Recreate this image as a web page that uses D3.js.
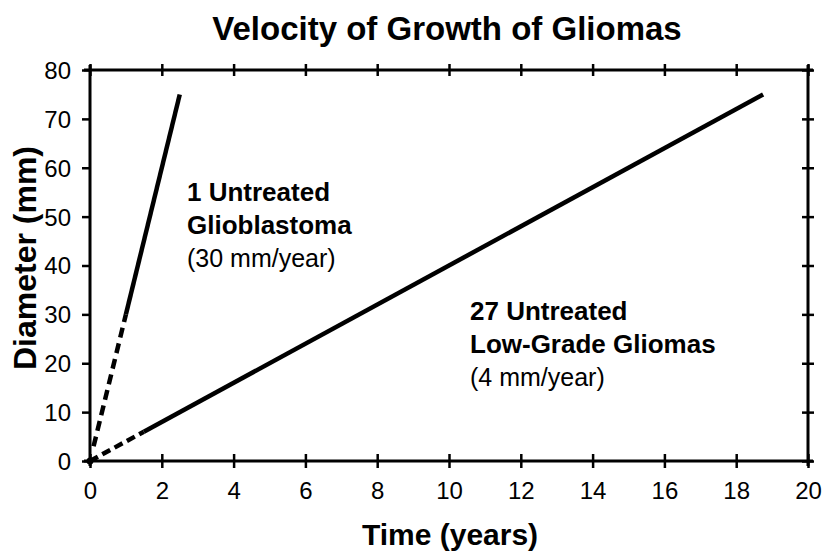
<!DOCTYPE html>
<html>
<head>
<meta charset="utf-8">
<script src="https://cdn.jsdelivr.net/npm/d3@7"></script>
<style>
  html, body { margin: 0; padding: 0; background: #fff; }
  svg { display: block; }
  svg text { font-family: "Liberation Sans", Arial, Helvetica, sans-serif; }
</style>
</head>
<body>
<svg id="chart" width="823" height="555"></svg>
<script>
// Axis ticks
const xTicks = [0, 2, 4, 6, 8, 10, 12, 14, 16, 18, 20];
const yTicks = [0, 10, 20, 30, 40, 50, 60, 70, 80];

// Glioblastoma: 30 mm/year (extrapolated part dashed, observed part solid)
const gbmExtrapolated = [[0.1, 3], [1, 30]];
const gbmObserved = [[1, 30], [2.5, 75]];

// Low-grade gliomas: 4 mm/year
const lggExtrapolated = [[0, 0], [1.5, 6]];
const lggObserved = [[1.5, 6], [18.75, 75]];

const origin = [[0, 0]];

const svg = d3.select("#chart");
const x = d3.scaleLinear().domain([0, 20]).range([90, 808]);
const y = d3.scaleLinear().domain([0, 80]).range([461, 70]);

const line = d3.line().x(d => x(d[0])).y(d => y(d[1]));

// Bottom axis with crossing ticks and labels
const gx = svg.append("g")
  .attr("transform", `translate(0,${y(0)})`)
  .call(d3.axisBottom(x).tickValues(xTicks).tickSize(7).tickPadding(0).tickFormat(d3.format("d")));
gx.attr("font-size", null).attr("font-family", null);
gx.select(".domain").remove();
gx.selectAll(".tick line").attr("y1", -7).attr("y2", 7).attr("stroke", "#000").attr("stroke-width", 2.5);
gx.selectAll(".tick text").attr("y", 21).attr("dy", "0.71em")
  .style("font-size", "24px").style("fill", "#000");

// Top axis: crossing ticks only
const gt = svg.append("g")
  .attr("transform", `translate(0,${y(80)})`)
  .call(d3.axisTop(x).tickValues(xTicks).tickSize(6).tickFormat(""));
gt.select(".domain").remove();
gt.selectAll(".tick line").attr("y1", -6).attr("y2", 6).attr("stroke", "#000").attr("stroke-width", 2.5);

// Left axis: outward ticks with labels
const gy = svg.append("g")
  .attr("transform", `translate(${x(0)},0)`)
  .call(d3.axisLeft(y).tickValues(yTicks).tickSize(8).tickPadding(0).tickFormat(d3.format("d")));
gy.attr("font-size", null).attr("font-family", null);
gy.select(".domain").remove();
gy.selectAll(".tick line").attr("x1", 1).attr("x2", -8).attr("stroke", "#000").attr("stroke-width", 2.5);
gy.selectAll(".tick text").attr("x", -19).attr("dy", "0.35em")
  .style("font-size", "24px").style("fill", "#000");

// Right axis: crossing ticks only
const gr = svg.append("g")
  .attr("transform", `translate(${x(20)},0)`)
  .call(d3.axisRight(y).tickValues(yTicks).tickSize(6).tickFormat(""));
gr.select(".domain").remove();
gr.selectAll(".tick line").attr("x1", -6).attr("x2", 6).attr("stroke", "#000").attr("stroke-width", 2.5);

// Frame lines
const frame = svg.append("g").attr("stroke", "#000").attr("stroke-width", 3).attr("fill", "none");
frame.append("line").attr("x1", x(0) - 6).attr("x2", x(20) + 5).attr("y1", y(0)).attr("y2", y(0));
frame.append("line").attr("x1", x(0) - 6).attr("x2", x(20) + 5).attr("y1", y(80)).attr("y2", y(80));
frame.append("line").attr("x1", x(0)).attr("x2", x(0)).attr("y1", y(80) - 5).attr("y2", y(0) + 5);
frame.append("line").attr("x1", x(20)).attr("x2", x(20)).attr("y1", y(80) - 5).attr("y2", y(0) + 5);

// Growth lines
const marks = svg.append("g").attr("fill", "none").attr("stroke", "#000").attr("stroke-width", 4.5);
marks.append("path").datum(gbmExtrapolated).attr("d", line).attr("stroke-dasharray", "10,6");
marks.append("path").datum(gbmObserved).attr("d", line);
marks.append("path").datum(lggExtrapolated).attr("d", line).attr("stroke-dasharray", "9,5");
marks.append("path").datum(lggObserved).attr("d", line);

svg.append("g").selectAll("circle").data(origin).join("circle")
  .attr("cx", d => x(d[0])).attr("cy", d => y(d[1])).attr("r", 3.5).attr("fill", "#000");

// Title and axis titles
svg.append("text").attr("x", 447).attr("y", 40).attr("text-anchor", "middle")
  .attr("font-size", 33).attr("font-weight", "bold").text("Velocity of Growth of Gliomas");
svg.append("text").attr("x", 450).attr("y", 545).attr("text-anchor", "middle")
  .attr("font-size", 30).attr("font-weight", "bold").text("Time (years)");
svg.append("text").attr("transform", "translate(36,258) rotate(-90)").attr("text-anchor", "middle")
  .attr("font-size", 32).attr("font-weight", "bold").text("Diameter (mm)");

// Annotations
function annotate(px, py, lines) {
  const t = svg.append("text").attr("x", px).attr("y", py);
  lines.forEach((l, i) => {
    t.append("tspan").attr("x", px).attr("dy", i === 0 ? 0 : 33)
      .attr("font-size", l.bold ? 26 : 25).attr("font-weight", l.bold ? "bold" : "normal").text(l.text);
  });
}
annotate(187, 201, [
  { text: "1 Untreated", bold: true },
  { text: "Glioblastoma", bold: true },
  { text: "(30 mm/year)", bold: false }
]);
annotate(470, 320, [
  { text: "27 Untreated", bold: true },
  { text: "Low-Grade Gliomas", bold: true },
  { text: "(4 mm/year)", bold: false }
]);
</script>
</body>
</html>
